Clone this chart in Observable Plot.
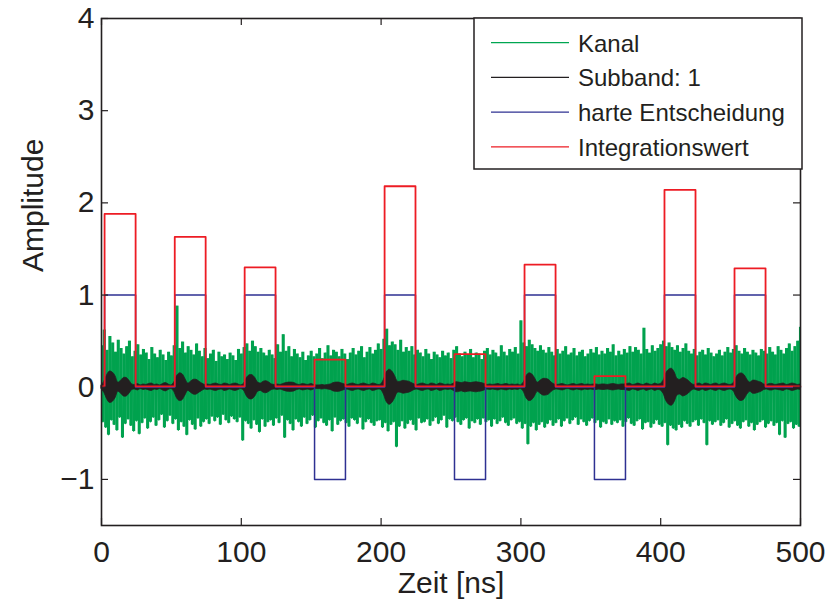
<!DOCTYPE html>
<html><head><meta charset="utf-8">
<script src="https://cdn.jsdelivr.net/npm/d3@7"></script>
<script src="https://cdn.jsdelivr.net/npm/@observablehq/plot@0.6"></script>
<style>html,body{margin:0;padding:0;background:#fff;}#chart{width:830px;height:606px;}</style>
</head><body><div id="chart"></div>
<script>
const xTicks = [0, 100, 200, 300, 400, 500];
const yTicks = [-1, 0, 1, 2, 3, 4];
const seriesNames = ["Kanal", "Subband: 1", "harte Entscheidung", "Integrationswert"];
const seriesColors = ["#00a651", "#231f20", "#2e3192", "#ed1c24"];

// symbol intervals [ns]
const pulseStart = [2.2, 52.4, 102.4, 152.4, 202.5, 252.5, 302.6, 352.6, 402.7, 452.8];
const pulseEnd   = [24.4, 74.5, 124.5, 174.5, 224.6, 274.7, 324.8, 374.8, 424.9, 475.0];
const decision    = [1, 1, 1, -1, 1, -1, 1, -1, 1, 1];
const integration = [1.88, 1.63, 1.30, 0.30, 2.18, 0.36, 1.33, 0.12, 2.14, 1.29];
const decisionIdle = 0;
const integrationIdle = 0.01;

// Kanal, sampled every 1 ns (t = 0 .. 500)
const kanalStep = 1;
const kanal = [
 0.45,-0.38,0.62,-0.44,0.40,-0.52,0.55,-0.36,0.48,-0.41,
 0.38,-0.47,0.51,-0.33,0.42,-0.55,0.36,-0.40,0.44,-0.35,
 0.50,-0.42,0.33,-0.48,0.39,-0.37,0.46,-0.51,0.35,-0.39,
 0.41,-0.34,0.37,-0.45,0.30,-0.38,0.43,-0.33,0.36,-0.42,
 0.32,-0.36,0.40,-0.30,0.35,-0.44,0.29,-0.37,0.38,-0.31,
 0.34,-0.40,0.45,-0.35,0.88,-0.47,0.42,-0.38,0.49,-0.43,
 0.37,-0.52,0.44,-0.36,0.40,-0.41,0.35,-0.46,0.47,-0.34,
 0.39,-0.43,0.33,-0.38,0.42,-0.35,0.31,-0.40,0.36,-0.32,
 0.40,-0.37,0.28,-0.33,0.38,-0.41,0.33,-0.30,0.35,-0.36,
 0.30,-0.39,0.37,-0.32,0.34,-0.35,0.29,-0.38,0.41,-0.33,
 0.36,-0.58,0.43,-0.37,0.47,-0.40,0.39,-0.45,0.50,-0.36,
 0.44,-0.41,0.38,-0.49,0.42,-0.35,0.37,-0.43,0.34,-0.38,
 0.40,-0.36,0.35,-0.42,0.31,-0.34,0.46,-0.39,0.38,-0.31,
 0.57,-0.55,0.39,-0.36,0.44,-0.40,0.33,-0.47,0.41,-0.35,
 0.36,-0.38,0.32,-0.43,0.38,-0.33,0.29,-0.40,0.34,-0.36,
 0.39,-0.31,0.33,-0.44,0.36,-0.37,0.42,-0.34,0.31,-0.39,
 0.37,-0.42,0.45,-0.36,0.34,-0.48,0.40,-0.33,0.38,-0.41,
 0.33,-0.37,0.41,-0.35,0.36,-0.39,0.30,-0.43,0.37,-0.34,
 0.42,-0.36,0.35,-0.40,0.39,-0.33,0.44,-0.46,0.32,-0.38,
 0.38,-0.35,0.43,-0.39,0.36,-0.42,0.40,-0.37,0.47,-0.36,
 0.41,-0.44,0.52,-0.39,0.63,-0.48,0.45,-0.41,0.49,-0.38,
 0.46,-0.65,0.40,-0.43,0.51,-0.37,0.38,-0.45,0.43,-0.40,
 0.39,-0.36,0.44,-0.41,0.35,-0.47,0.40,-0.34,0.37,-0.39,
 0.33,-0.38,0.41,-0.35,0.36,-0.42,0.30,-0.37,0.38,-0.33,
 0.35,-0.40,0.32,-0.36,0.39,-0.31,0.34,-0.44,0.37,-0.35,
 0.31,-0.37,0.40,-0.33,0.44,-0.38,0.36,-0.41,0.33,-0.36,
 0.38,-0.34,0.35,-0.45,0.41,-0.37,0.32,-0.39,0.37,-0.35,
 0.36,-0.41,0.30,-0.34,0.39,-0.38,0.42,-0.36,0.35,-0.43,
 0.40,-0.35,0.37,-0.40,0.33,-0.37,0.45,-0.33,0.38,-0.39,
 0.34,-0.42,0.41,-0.36,0.38,-0.34,0.43,-0.40,0.36,-0.38,
 0.72,-0.45,0.48,-0.40,0.44,-0.62,0.51,-0.43,0.46,-0.39,
 0.42,-0.47,0.39,-0.41,0.45,-0.38,0.40,-0.44,0.37,-0.40,
 0.43,-0.36,0.38,-0.42,0.34,-0.39,0.41,-0.35,0.36,-0.43,
 0.39,-0.37,0.44,-0.34,0.35,-0.40,0.37,-0.36,0.42,-0.33,
 0.34,-0.41,0.38,-0.35,0.40,-0.38,0.33,-0.42,0.36,-0.37,
 0.41,-0.34,0.37,-0.39,0.43,-0.36,0.35,-0.44,0.39,-0.38,
 0.36,-0.40,0.42,-0.35,0.38,-0.41,0.46,-0.37,0.34,-0.39,
 0.39,-0.36,0.35,-0.43,0.41,-0.38,0.37,-0.34,0.44,-0.40,
 0.38,-0.42,0.43,-0.37,0.40,-0.35,0.36,-0.46,0.64,-0.39,
 0.41,-0.38,0.37,-0.44,0.45,-0.40,0.39,-0.36,0.42,-0.41,
 0.46,-0.43,0.50,-0.39,0.44,-0.63,0.48,-0.42,0.43,-0.45,
 0.40,-0.47,0.45,-0.41,0.38,-0.44,0.42,-0.37,0.47,-0.40,
 0.39,-0.43,0.36,-0.38,0.41,-0.36,0.34,-0.42,0.38,-0.35,
 0.40,-0.39,0.35,-0.63,0.42,-0.37,0.37,-0.41,0.33,-0.38,
 0.36,-0.36,0.40,-0.42,0.34,-0.39,0.38,-0.35,0.43,-0.44,
 0.37,-0.40,0.41,-0.37,0.45,-0.42,0.39,-0.45,0.36,-0.38,
 0.42,-0.36,0.38,-0.43,0.35,-0.39,0.40,-0.47,0.37,-0.41,
 0.34,-0.38,0.41,-0.36,0.39,-0.44,0.36,-0.40,0.43,-0.37,
 0.38,-0.42,0.35,-0.39,0.44,-0.52,0.40,-0.37,0.36,-0.55,
 0.42,-0.40,0.47,-0.38,0.39,-0.45,0.44,-0.41,0.50,-0.43,
 0.65
];

// Subband 1 envelope, every 2 ns (t = 0 .. 500)
const subbandStep = 2;
const subbandEnv = [
 0.02,0.06,0.13,0.17,0.16,0.12,0.05,0.07,0.10,0.10,
 0.07,0.03,0.025,0.035,0.02,0.03,0.025,0.035,0.04,0.025,
 0.03,0.02,0.035,0.045,0.03,0.02,0.05,0.12,0.15,0.14,
 0.09,0.04,0.06,0.08,0.08,0.06,0.04,0.025,0.03,0.025,
 0.035,0.04,0.03,0.025,0.04,0.035,0.025,0.035,0.04,0.03,
 0.02,0.04,0.10,0.13,0.13,0.10,0.05,0.04,0.06,0.065,
 0.05,0.03,0.025,0.03,0.025,0.035,0.045,0.05,0.05,0.045,
 0.03,0.025,0.035,0.03,0.025,0.035,0.025,0.02,0.02,0.025,
 0.02,0.025,0.03,0.045,0.05,0.05,0.04,0.03,0.025,0.035,
 0.04,0.03,0.025,0.035,0.04,0.03,0.025,0.04,0.035,0.025,
 0.03,0.08,0.16,0.19,0.17,0.12,0.06,0.06,0.07,0.065,
 0.06,0.045,0.03,0.025,0.035,0.04,0.03,0.025,0.04,0.035,
 0.025,0.04,0.035,0.025,0.03,0.025,0.04,0.055,0.05,0.045,
 0.055,0.05,0.045,0.05,0.055,0.05,0.045,0.035,0.025,0.03,
 0.025,0.03,0.035,0.025,0.03,0.035,0.025,0.03,0.025,0.03,
 0.02,0.05,0.12,0.15,0.14,0.10,0.05,0.07,0.09,0.09,
 0.08,0.05,0.03,0.025,0.03,0.035,0.025,0.02,0.03,0.035,
 0.025,0.03,0.035,0.025,0.03,0.025,0.03,0.03,0.025,0.03,
 0.03,0.025,0.03,0.035,0.03,0.025,0.03,0.03,0.035,0.04,
 0.025,0.03,0.04,0.03,0.025,0.04,0.03,0.025,0.04,0.03,
 0.035,0.07,0.15,0.19,0.20,0.16,0.09,0.08,0.10,0.09,
 0.07,0.04,0.025,0.035,0.04,0.025,0.04,0.035,0.025,0.035,
 0.04,0.025,0.035,0.04,0.03,0.025,0.04,0.10,0.14,0.15,
 0.13,0.08,0.05,0.07,0.07,0.06,0.05,0.03,0.025,0.035,
 0.035,0.025,0.03,0.035,0.04,0.025,0.03,0.04,0.035,0.025,
 0.03
];

const kanalData = kanal.map((v, i) => ({t: i * kanalStep, v}));
// each sample-to-sample swing of the channel signal
const kanalSwings = kanal.slice(0, -1).map((v, i) => ({t: (i + 0.5) * kanalStep, a: v, b: kanal[i + 1]}));
const subbandData = subbandEnv.map((e, i) => ({t: i * subbandStep, e}));

function steps(levels, idle) {
  const pts = [{t: 0, v: idle}];
  pulseStart.forEach((s, i) => {
    pts.push({t: s, v: idle}, {t: s, v: levels[i]}, {t: pulseEnd[i], v: levels[i]}, {t: pulseEnd[i], v: idle});
  });
  pts.push({t: 500, v: idle});
  return pts;
}
const decisionData = steps(decision, decisionIdle);
const integrationData = steps(integration, integrationIdle);

const ink = "#231f20";
const green = "#00a24e";
const fontStack = "'Liberation Sans', Arial, Helvetica, sans-serif";
const chart = Plot.plot({
  width: 830, height: 606,
  marginLeft: 101, marginRight: 30, marginTop: 18, marginBottom: 81,
  x: {domain: [0, 500]},
  y: {domain: [-1.5, 4]},
  style: {fontFamily: fontStack, fontSize: "30px", color: ink, background: "#fff", overflow: "visible"},
  marks: [
    Plot.ruleX(kanalSwings, {x: "t", y1: "a", y2: "b", stroke: green, strokeWidth: 1.7}),
    Plot.line(kanalData, {x: "t", y: "v", stroke: green, strokeWidth: 1}),
    Plot.areaY(subbandData, {x: "t", y1: d => -d.e, y2: d => d.e, fill: seriesColors[1], stroke: seriesColors[1], strokeWidth: 0.8, curve: "catmull-rom"}),
    Plot.line(decisionData, {x: "t", y: "v", stroke: seriesColors[2], strokeWidth: 1.5}),
    Plot.line(integrationData, {x: "t", y: "v", stroke: seriesColors[3], strokeWidth: 1.8}),
    Plot.frame({stroke: ink, strokeWidth: 1.6}),
    Plot.ruleX(xTicks, {x: d => d, insetTop: 500, stroke: ink, strokeWidth: 1.2}),
    Plot.ruleX(xTicks, {x: d => d, insetBottom: 500, stroke: ink, strokeWidth: 1.2}),
    Plot.ruleY(yTicks, {y: d => d, insetRight: 692, stroke: ink, strokeWidth: 1.2}),
    Plot.ruleY(yTicks, {y: d => d, insetLeft: 692, stroke: ink, strokeWidth: 1.2}),
    Plot.axisX({ticks: xTicks, tickSize: 0, tickPadding: 15, label: null, fontSize: 30, tickFormat: d3.format("d")}),
    Plot.axisY({ticks: yTicks, tickSize: 0, tickPadding: 7, label: null, fontSize: 30, tickFormat: d3.format("d")}),
    Plot.text(["Zeit [ns]"], {frameAnchor: "bottom", dy: 67, fontSize: 30, fill: ink}),
    Plot.text(["Amplitude"], {frameAnchor: "left", dx: -68, rotate: -90, fontSize: 30, fill: ink})
  ]
});
document.getElementById("chart").appendChild(chart);

// legend box (MATLAB style, inside the axes)
const svg = d3.select(chart);
const lg = svg.append("g").attr("font-family", fontStack).attr("font-size", 24).attr("text-anchor", "start");
lg.append("rect").attr("x", 474).attr("y", 18).attr("width", 328).attr("height", 151)
  .attr("fill", "#fff").attr("stroke", ink).attr("stroke-width", 1.5);
seriesNames.forEach((name, i) => {
  const base = 51.7 + i * 34.7;
  lg.append("line").attr("x1", 491).attr("x2", 569).attr("y1", base - 9).attr("y2", base - 9)
    .attr("stroke", seriesColors[i]).attr("stroke-width", 1.2);
  lg.append("text").attr("x", 578).attr("y", base).attr("fill", ink).attr("text-anchor", "start").text(name);
});
</script>
</body></html>
